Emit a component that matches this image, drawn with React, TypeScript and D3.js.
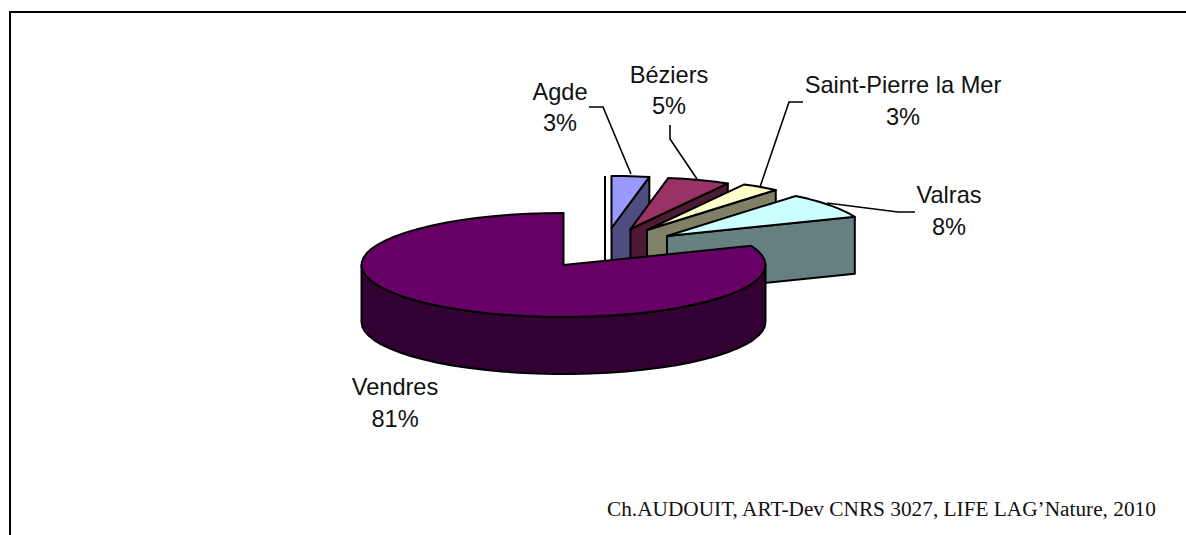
import React from "react";
import * as d3 from "d3";

const categories = ["Agde", "Béziers", "Saint-Pierre la Mer", "Valras", "Vendres"];
const shares = [3, 5, 3, 8, 81];
const topColours = ["#9999ff", "#993366", "#ffffcc", "#ccffff", "#660066"];
const sideColours = ["#4d4d80", "#4d1a33", "#808066", "#668080", "#330033"];
const credit = "Ch.AUDOUIT, ART-Dev CNRS 3027, LIFE LAG’Nature, 2010";

const W = 1186, H = 535;
const cx = 563.5, cy = 265, rx = 202, ry = 52, depth = 57;
// explosion of each slice's apex from the pie centre, in pixels
const explode: [number, number][] = [[48, -37], [67, -36], [83.5, -35], [103.5, -29], [0, 0]];
const labelPos = [
  { x: 560, y: 100, gap: 31 }, { x: 669, y: 83, gap: 31 }, { x: 903, y: 93, gap: 32 },
  { x: 949, y: 203, gap: 32 }, { x: 395, y: 395, gap: 32 },
];
const leaders: [number, number][][] = [
  [[589, 107], [603, 107], [631, 174]],
  [[670, 125], [670, 139], [697, 179]],
  [[803, 102], [789, 102], [760, 187]],
  [[915, 212], [898, 212], [827, 203]],
];

const sx = d3.scaleLinear().domain([-1, 1]).range([cx - rx, cx + rx]);
const sy = d3.scaleLinear().domain([-1, 1]).range([cy - ry, cy + ry]);
const line = d3.line<[number, number]>();

function arcPts(a0: number, a1: number, dx: number, dy: number, drop = 0): [number, number][] {
  const n = Math.max(2, Math.ceil(Math.abs(a1 - a0) / 0.09));
  return d3.range(n + 1).map((i) => {
    const a = a0 + ((a1 - a0) * i) / n;
    return [sx(Math.sin(a)) + dx, sy(-Math.cos(a)) + dy + drop] as [number, number];
  });
}

export default function App() {
  const slices = d3.pie<number>().sort(null).startAngle(0).endAngle(2 * Math.PI)(shares);
  const stroke = { stroke: "#000", strokeWidth: 2, strokeLinejoin: "round" as const };
  return (
    <svg width={W} height={H} style={{ position: "absolute", left: 0, top: 0, background: "#fff" }}>
      <path d={line([[10, H], [10, 12], [W, 12]])!} fill="none" stroke="#000" strokeWidth={2} />
      <path
        d={line([[sx(0) + 41.5, sy(-1) + explode[0][1]], [sx(0) + 41.5, sy(0) - 5]])!}
        fill="none" stroke="#000" strokeWidth={2}
      />
      {slices.map((s, i) => {
        const [dx, dy] = explode[i];
        const apex: [number, number] = [cx + dx, cy + dy];
        const top = arcPts(s.startAngle, s.endAngle, dx, dy);
        const isMain = i === slices.length - 1;
        const wallStart = Math.PI / 2;
        const wallEnd = 1.5 * Math.PI;
        return (
          <g key={categories[i]}>
            {isMain ? (
              <path
                d={line([
                  ...arcPts(wallStart, wallEnd, dx, dy),
                  ...arcPts(wallEnd, wallStart, dx, dy, depth),
                ])! + "Z"}
                fill={sideColours[i]} {...stroke}
              />
            ) : (
              <path
                d={line([
                  apex,
                  top[top.length - 1],
                  [top[top.length - 1][0], top[top.length - 1][1] + depth],
                  [apex[0], apex[1] + depth],
                ])! + "Z"}
                fill={sideColours[i]} {...stroke}
              />
            )}
            <path d={line([apex, ...top])! + "Z"} fill={topColours[i]} {...stroke} />
          </g>
        );
      })}
      {leaders.map((l, i) => (
        <path key={i} d={line(l)!} fill="none" stroke="#000" strokeWidth={1.6} />
      ))}
      {categories.map((c, i) => (
        <text key={c} textAnchor="middle" fontFamily="'Liberation Sans', Arial, sans-serif" fontSize={23.6} fill="#111">
          <tspan x={labelPos[i].x} y={labelPos[i].y}>{c}</tspan>
          <tspan x={labelPos[i].x} y={labelPos[i].y + labelPos[i].gap}>{shares[i]}%</tspan>
        </text>
      ))}
      <text x={607} y={516} fontFamily="'Liberation Serif', 'Times New Roman', serif" fontSize={21.3} fill="#111">
        {credit}
      </text>
    </svg>
  );
}
